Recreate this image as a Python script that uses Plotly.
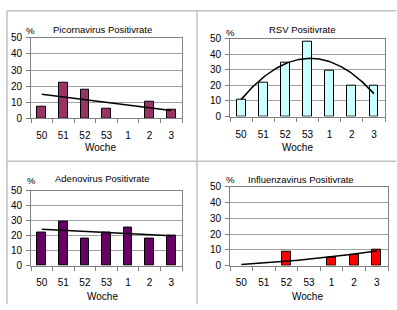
import numpy as np
import plotly.graph_objects as go

weeks = ["50", "51", "52", "53", "1", "2", "3"]
titles = ["Picornavirus Positivrate", "RSV Positivrate", "Adenovirus Positivrate", "Influenzavirus Positivrate"]
picorna = [7.5, 22, 18, 6, 0, 10.5, 5.5]
rsv = [11, 22, 34.5, 48, 29.5, 20, 20]
adeno = [22, 29, 18, 22, 25.5, 18, 20]
influenza = [0, 0, 9, 0, 5, 7, 10]
series = [picorna, rsv, adeno, influenza]
colors = ["#993366", "#CCFFFF", "#660066", "#FF0000"]
trend_deg = [1, 2, 1, 2]

W, H = 397, 310
FONT = "Liberation Sans, Arial, sans-serif"

# panel geometry (pixels): plot x0, x1, y_top, y_bottom
panels = [
    (31, 182, 33, 117),
    (230, 385, 34, 115),
    (31, 182, 192, 270),
    (230, 388, 188, 270),
]
label_standoff = [8, 8, 7, 7]
title_pos = [(102, 24), (302, 24), (102, 179), (301, 180)]
pct_pos = [(30, 26), (230, 28), (31, 182), (230, 180)]
woche_pos = [(100, 147), (297, 147), (102, 302), (307, 302)]

fig = go.Figure()
xs = np.arange(len(weeks))
xd = np.linspace(0, len(weeks) - 1, 120)

for i, vals in enumerate(series):
    n = "" if i == 0 else str(i + 1)
    xa, ya = "x" + n, "y" + n
    lw = [1 if v > 0 else 0 for v in vals]
    fig.add_trace(go.Bar(x=xs, y=vals, width=0.4, marker=dict(color=colors[i], line=dict(color="#000000", width=lw)),
                         xaxis=xa, yaxis=ya, showlegend=False))
    coef = np.polyfit(xs, vals, trend_deg[i])
    fig.add_trace(go.Scatter(x=xd, y=np.polyval(coef, xd), mode="lines", line=dict(color="#000000", width=1.5),
                             xaxis=xa, yaxis=ya, showlegend=False))
    x0, x1, yt, yb = panels[i]
    fig.layout["xaxis" + n] = dict(
        domain=[x0 / W, x1 / W], anchor=ya, range=[-0.5, len(weeks) - 0.5],
        tickvals=list(xs), ticktext=weeks, ticks="", showgrid=False, zeroline=False,
        showline=True, linecolor="#808080", linewidth=1, mirror=True,
        tickfont=dict(family=FONT, size=10, color="#000000"), ticklabelstandoff=label_standoff[i],
        minor=dict(tickvals=list(np.arange(-0.5, len(weeks), 1.0)), ticks="outside", ticklen=4, tickcolor="#808080", showgrid=False),
        fixedrange=True,
    )
    fig.layout["yaxis" + n] = dict(
        domain=[1 - yb / H, 1 - yt / H], anchor=xa, range=[0, 50], dtick=10,
        ticks="outside", ticklen=4, tickcolor="#808080", showgrid=True, gridcolor="#a0a0a0", gridwidth=1,
        zeroline=False, showline=True, linecolor="#808080", linewidth=1, mirror=True,
        tickfont=dict(family=FONT, size=10, color="#000000"), ticklabelstandoff=2, fixedrange=True,
    )
    fig.add_annotation(x=title_pos[i][0] / W, y=1 - title_pos[i][1] / H, xref="paper", yref="paper",
                       text=titles[i], showarrow=False, font=dict(family=FONT, size=9.5, color="#000000"),
                       xanchor="center", yanchor="middle")
    fig.add_annotation(x=pct_pos[i][0] / W, y=1 - pct_pos[i][1] / H, xref="paper", yref="paper",
                       text="%", showarrow=False, font=dict(family=FONT, size=9.5, color="#000000"),
                       xanchor="center", yanchor="middle")
    fig.add_annotation(x=woche_pos[i][0] / W, y=1 - woche_pos[i][1] / H, xref="paper", yref="paper",
                       text="Woche", showarrow=False, font=dict(family=FONT, size=10, color="#000000"),
                       xanchor="center", yanchor="middle")

frame = dict(type="line", xref="paper", yref="paper", line=dict(color="#c0c0c0", width=1.5))
fig.add_shape(x0=7 / W, x1=396 / W, y0=1 - 5 / H, y1=1 - 5 / H, **frame)
fig.add_shape(x0=7 / W, x1=396 / W, y0=1 - 161.5 / H, y1=1 - 161.5 / H, **frame)
fig.add_shape(x0=7 / W, x1=7 / W, y0=0, y1=1 - 5 / H, **frame)
fig.add_shape(x0=197 / W, x1=197 / W, y0=0, y1=1 - 5 / H, **frame)

fig.update_layout(width=W, height=H, margin=dict(l=0, r=0, t=0, b=0), paper_bgcolor="#ffffff",
                  plot_bgcolor="#ffffff", bargap=0, font=dict(family=FONT))
fig.write_html("out.html", config={"displayModeBar": False},
               post_script="document.body.style.margin='0';document.body.style.overflow='hidden';")
